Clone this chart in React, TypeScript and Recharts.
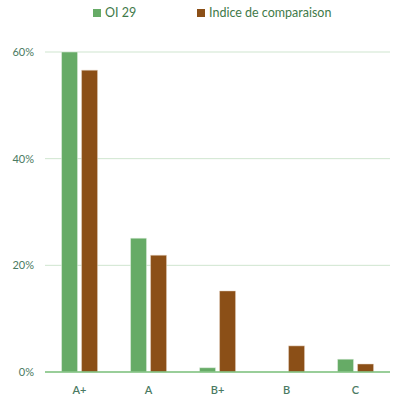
import { BarChart, Bar, XAxis, YAxis, CartesianGrid, Legend } from 'recharts'

const categories = ['A+', 'A', 'B+', 'B', 'C']
const oi29 = [60, 25.1, 0.8, 0, 2.4]
const indice = [56.6, 21.9, 15.2, 4.9, 1.5]
const yTicks = [0, 20, 40, 60]

const data = categories.map((c, i) => ({ cat: c, 'OI 29': oi29[i], 'Indice de comparaison': indice[i] }))

const font = 'Lato, "Open Sans", sans-serif'
const tickStyle = { fontSize: 11, fill: '#4a7a62', fontFamily: font }

function LegendBox() {
  const items = [
    { label: 'OI 29', color: '#66ab66', left: 93 },
    { label: 'Indice de comparaison', color: '#8b4f17', left: 197 },
  ]
  return (
    <div style={{ position: 'relative', height: 26 }}>
      {items.map((it) => (
        <div
          key={it.label}
          style={{
            position: 'absolute',
            left: it.left,
            top: 5,
            display: 'flex',
            alignItems: 'center',
            fontFamily: font,
            fontSize: 12.5,
            color: '#3f7a4a',
          }}
        >
          <span style={{ width: 8, height: 8, background: it.color, marginRight: 4, display: 'inline-block' }} />
          {it.label}
        </div>
      ))}
    </div>
  )
}

export default function App() {
  return (
    <div style={{ position: 'absolute', left: 0, top: 0, width: 401, height: 401, background: '#fff' }}>
      <BarChart
        width={401}
        height={401}
        data={data}
        margin={{ top: 26, right: 11, left: 0, bottom: 0 }}
        barCategoryGap="24%"
        barGap={4}
      >
        <Legend
          verticalAlign="top"
          align="left"
          content={() => <LegendBox />}
          wrapperStyle={{ top: 0, left: 0, width: 401 }}
        />
        <CartesianGrid vertical={false} stroke="#cfe5cf" strokeWidth={1} />
        <XAxis
          dataKey="cat"
          height={29}
          tick={{ ...tickStyle, fontWeight: 600 }}
          tickLine={false}
          axisLine={{ stroke: '#7fc27f', strokeWidth: 1.5 }}
          tickMargin={8}
        />
        <YAxis
          width={45}
          domain={[0, 60]}
          ticks={yTicks}
          tickFormatter={(v) => `${v}%`}
          tick={tickStyle}
          tickLine={false}
          axisLine={false}
          tickMargin={5}
        />
        <Bar dataKey="OI 29" fill="#66ab66" stroke="#e8f2e8" strokeWidth={0.5} isAnimationActive={false} />
        <Bar dataKey="Indice de comparaison" fill="#8b4f17" stroke="#e8d8c8" strokeWidth={0.5} isAnimationActive={false} />
      </BarChart>
    </div>
  )
}
